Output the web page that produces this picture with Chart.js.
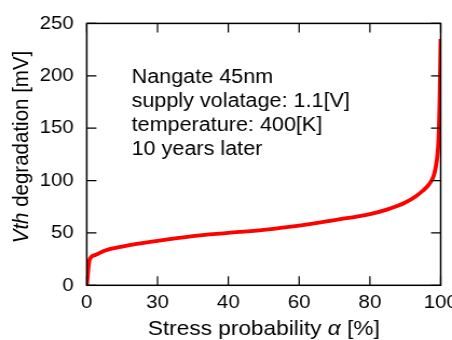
<!DOCTYPE html>
<html>
<head>
<meta charset="utf-8">
<script src="https://cdn.jsdelivr.net/npm/chart.js@4/dist/chart.umd.min.js"></script>
<style>
  html, body { margin: 0; padding: 0; background: #fff; }
  #wrap { width: 452px; height: 340px; overflow: hidden; position: relative; }
  #vth { position: absolute; left: 0; top: 0; transform: scaleX(1.0788); transform-origin: 0 0; }
</style>
</head>
<body>
<div id="wrap"><canvas id="vth" width="450" height="340"></canvas></div>
<script>
const stressProb = [0, 0.8, 2.5, 5, 10, 20, 30, 40, 50, 60, 70, 80, 85, 90, 93, 95, 96.5, 97.5, 98, 98.4, 98.8, 99.1, 99.4, 99.7, 100];
const vthDeg = [0, 24.5, 29, 33, 37, 42.5, 47, 50, 53, 57, 62.3, 68, 72.5, 79, 85, 90.5, 95.5, 100.5, 104.5, 109.5, 117, 125, 140, 175, 235];
const xTickLabels = ['0', '30', '40', '60', '80', '100'];
const yTickLabels = ['0', '50', '100', '150', '200', '250'];
const noteLines = ['Nangate 45nm', 'supply volatage: 1.1[V]', 'temperature: 400[K]', '10 years later'];

const FONT = '"Liberation Sans", Arial, Helvetica, sans-serif';

// frame, inward ticks on all four sides, notes and axis titles
const framePlugin = {
  id: 'frame',
  afterDraw(chart) {
    const { ctx, chartArea: a, scales } = chart;
    ctx.save();
    ctx.strokeStyle = '#000';
    ctx.lineWidth = 1.2;
    ctx.beginPath();
    scales.x.ticks.forEach((t) => {
      const px = scales.x.getPixelForValue(t.value);
      ctx.moveTo(px, a.bottom); ctx.lineTo(px, a.bottom - 9);
      ctx.moveTo(px, a.top); ctx.lineTo(px, a.top + 9);
    });
    scales.y.ticks.forEach((t) => {
      const py = scales.y.getPixelForValue(t.value);
      ctx.moveTo(a.left, py); ctx.lineTo(a.left + 9, py);
      ctx.moveTo(a.right, py); ctx.lineTo(a.right - 9, py);
    });
    ctx.stroke();
    ctx.lineWidth = 1.5;
    ctx.strokeRect(a.left, a.top, a.right - a.left, a.bottom - a.top);

    ctx.fillStyle = '#000';
    ctx.textBaseline = 'alphabetic';
    ctx.textAlign = 'left';
    ctx.font = '20px ' + FONT;
    noteLines.forEach((s, i) => ctx.fillText(s, 122, 82.5 + i * 24));

    // x title with italic alpha
    const parts = [['Stress probability ', ''], ['\u03b1', 'italic '], [' [%]', '']];
    let w = 0;
    parts.forEach(([s, st]) => { ctx.font = st + '21px ' + FONT; w += ctx.measureText(s).width; });
    let x = (a.left + a.right) / 2 - w / 2;
    parts.forEach(([s, st]) => {
      ctx.font = st + '21px ' + FONT;
      ctx.fillText(s, x, 335);
      x += ctx.measureText(s).width;
    });

    // y title with italic Vth
    ctx.translate(25.8, 147);
    ctx.rotate(-Math.PI / 2);
    const yparts = [['Vth', 'italic '], [' degradation [mV]', '']];
    w = 0;
    yparts.forEach(([s, st]) => { ctx.font = st + '20.5px ' + FONT; w += ctx.measureText(s).width; });
    x = -w / 2;
    yparts.forEach(([s, st]) => {
      ctx.font = st + '20.5px ' + FONT;
      ctx.fillText(s, x, 0);
      x += ctx.measureText(s).width;
    });
    ctx.restore();
  }
};

new Chart(document.getElementById('vth'), {
  type: 'line',
  data: {
    datasets: [{
      data: stressProb.map((v, i) => ({ x: v, y: vthDeg[i] })),
      borderColor: '#ff0000',
      borderWidth: 3.8,
      pointRadius: 0,
      cubicInterpolationMode: 'monotone',
      fill: false
    }]
  },
  options: {
    responsive: false,
    animation: false,
    layout: { padding: { left: 0, right: 41.5, top: 22.7, bottom: 0 } },
    plugins: { legend: { display: false }, tooltip: { enabled: false } },
    scales: {
      x: {
        type: 'linear', min: 0, max: 100,
        grid: { display: false, drawTicks: false },
        border: { display: false },
        afterFit(s) { s.height = 54.7; },
        ticks: {
          stepSize: 20, padding: 6, color: '#000', maxRotation: 0,
          font: { family: FONT, size: 19 },
          callback: (v, i) => xTickLabels[i]
        }
      },
      y: {
        min: 0, max: 250,
        grid: { display: false, drawTicks: false },
        border: { display: false },
        afterFit(s) { s.width = 80.4; },
        ticks: {
          stepSize: 50, padding: 12, color: '#000',
          font: { family: FONT, size: 19 },
          callback: (v, i) => yTickLabels[i]
        }
      }
    }
  },
  plugins: [framePlugin]
});
</script>
</body>
</html>
